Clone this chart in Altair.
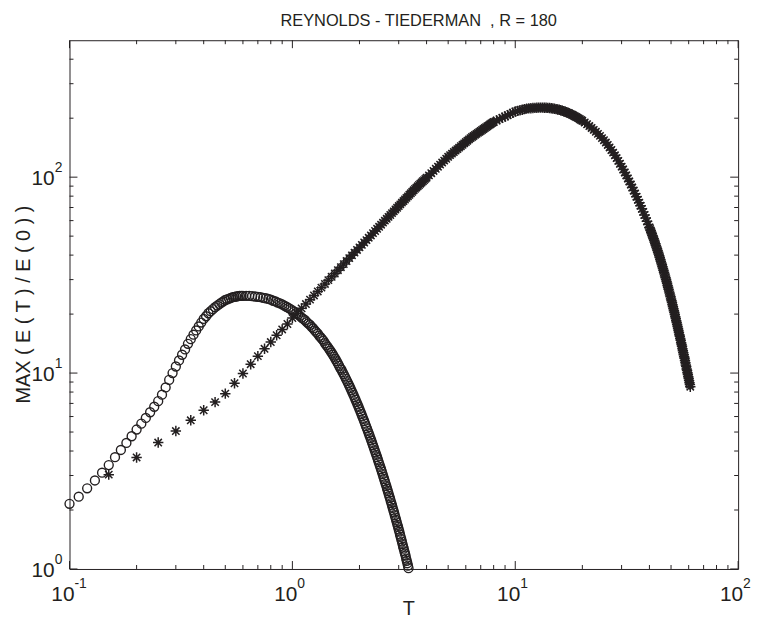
import altair as alt
import pandas as pd

# ---------------- data ----------------
circle_T = [
    0.10, 0.11, 0.12, 0.13, 0.14, 0.15, 0.16, 0.17, 0.18, 0.19,
    0.20, 0.21, 0.22, 0.23, 0.24, 0.25, 0.26, 0.27, 0.28, 0.29,
    0.30, 0.31, 0.32, 0.33, 0.34, 0.35, 0.36, 0.37, 0.38, 0.39,
    0.40, 0.41, 0.42, 0.43, 0.44, 0.45, 0.46, 0.47, 0.48, 0.49,
    0.50, 0.51, 0.52, 0.53, 0.54, 0.55, 0.56, 0.57, 0.58, 0.59,
    0.60,
    0.62, 0.64, 0.66, 0.68, 0.70, 0.72, 0.74, 0.76, 0.78, 0.80,
    0.82, 0.84, 0.86, 0.88, 0.90, 0.92, 0.94, 0.96, 0.98, 1.00,
    1.02, 1.04, 1.06, 1.08, 1.10, 1.12, 1.14, 1.16, 1.18, 1.20,
    1.22, 1.24, 1.26, 1.28, 1.30, 1.32, 1.34, 1.36, 1.38, 1.40,
    1.42, 1.44, 1.46, 1.48, 1.50, 1.52, 1.54, 1.56, 1.58, 1.60,
    1.62, 1.64, 1.66, 1.68, 1.70, 1.72, 1.74, 1.76, 1.78, 1.80,
    1.82, 1.84, 1.86, 1.88, 1.90, 1.92, 1.94, 1.96, 1.98, 2.00,
    2.02, 2.04, 2.06, 2.08, 2.10, 2.12, 2.14, 2.16, 2.18, 2.20,
    2.22, 2.24, 2.26, 2.28, 2.30, 2.32, 2.34, 2.36, 2.38, 2.40,
    2.42, 2.44, 2.46, 2.48, 2.50, 2.52, 2.54, 2.56, 2.58, 2.60,
    2.62, 2.64, 2.66, 2.68, 2.70, 2.72, 2.74, 2.76, 2.78, 2.80,
    2.82, 2.84, 2.86, 2.88, 2.90, 2.92, 2.94, 2.96, 2.98, 3.00,
    3.02, 3.04, 3.06, 3.08, 3.10, 3.12, 3.14, 3.16, 3.18, 3.20,
    3.22, 3.24, 3.26, 3.28, 3.30, 3.32,
]
circle_E = [
    2.15, 2.34, 2.58, 2.83, 3.10, 3.39, 3.72, 4.05, 4.40, 4.76,
    5.15, 5.52, 5.90, 6.31, 6.73, 7.19, 7.76, 8.45, 9.23, 10.0,
    10.8, 11.6, 12.4, 13.2, 14.1, 14.9, 15.7, 16.5, 17.3, 18.1,
    18.9, 19.5, 20.2, 20.7, 21.2, 21.7, 22.1, 22.5, 22.9, 23.2,
    23.6, 23.8, 24.0, 24.2, 24.4, 24.5, 24.6, 24.7, 24.8, 24.8,
    24.8,
    24.8, 24.8, 24.7, 24.6, 24.5, 24.4, 24.2, 24.1, 23.9, 23.7,
    23.4, 23.2, 22.9, 22.7, 22.4, 22.1, 21.8, 21.5, 21.2, 20.9,
    20.6, 20.2, 19.9, 19.6, 19.2, 18.9, 18.6, 18.2, 17.9, 17.6,
    17.2, 16.9, 16.5, 16.2, 15.9, 15.5, 15.2, 14.9, 14.6, 14.2,
    13.9, 13.6, 13.3, 13.0, 12.7, 12.4, 12.1, 11.8, 11.5, 11.2,
    10.9, 10.6, 10.4, 10.1, 9.85, 9.60, 9.34, 9.10, 8.86, 8.62,
    8.39, 8.16, 7.94, 7.73, 7.52, 7.31, 7.11, 6.92, 6.73, 6.54,
    6.36, 6.18, 6.01, 5.84, 5.68, 5.52, 5.36, 5.22, 5.07, 4.93,
    4.79, 4.66, 4.53, 4.40, 4.28, 4.16, 4.04, 3.93, 3.82, 3.72,
    3.61, 3.51, 3.41, 3.32, 3.23, 3.14, 3.05, 2.96, 2.88, 2.80,
    2.72, 2.65, 2.57, 2.50, 2.43, 2.36, 2.30, 2.23, 2.17, 2.11,
    2.05, 1.99, 1.94, 1.88, 1.83, 1.78, 1.73, 1.68, 1.64, 1.59,
    1.55, 1.50, 1.46, 1.42, 1.38, 1.34, 1.30, 1.27, 1.23, 1.20,
    1.17, 1.13, 1.10, 1.07, 1.04, 1.01,
]

star_T = [
    0.15, 0.20, 0.25, 0.30, 0.35, 0.40, 0.45, 0.50, 0.55, 0.60,
    0.65, 0.70, 0.75, 0.80, 0.85, 0.90, 0.95, 1.00,
    1.05, 1.10, 1.15, 1.20, 1.25, 1.30, 1.35, 1.40, 1.45, 1.50,
    1.55, 1.60, 1.65, 1.70, 1.75, 1.80, 1.85, 1.90, 1.95, 2.00,
    2.05, 2.10, 2.15, 2.20, 2.25, 2.30, 2.35, 2.40, 2.45, 2.50,
    2.55, 2.60, 2.65, 2.70, 2.75, 2.80, 2.85, 2.90, 2.95, 3.00,
    3.05, 3.10, 3.15, 3.20, 3.25, 3.30, 3.35, 3.40, 3.45, 3.50,
    3.55, 3.60, 3.65, 3.70, 3.75, 3.80, 3.85, 3.90, 3.95, 4.00,
    4.1, 4.2, 4.3, 4.4, 4.5, 4.6, 4.7, 4.8, 4.9, 5.0,
    5.1, 5.2, 5.3, 5.4, 5.5, 5.6, 5.7, 5.8, 5.9, 6.0,
    6.1, 6.2, 6.3, 6.4, 6.5, 6.6, 6.7, 6.8, 6.9, 7.0,
    7.1, 7.2, 7.3, 7.4, 7.5, 7.6, 7.7, 7.8, 7.9, 8.0,
    8.25, 8.5, 8.75, 9.0, 9.25, 9.5, 9.75, 10.0,
    10.25, 10.5, 10.75, 11.0, 11.25, 11.5, 11.75, 12.0,
    12.25, 12.5, 12.75, 13.0, 13.25, 13.5, 13.75, 14.0,
    14.25, 14.5, 14.75, 15.0, 15.25, 15.5, 15.75, 16.0,
    16.25, 16.5, 16.75, 17.0, 17.25, 17.5, 17.75, 18.0,
    18.25, 18.5, 18.75, 19.0, 19.25, 19.5, 19.75, 20.0,
    20.5, 21.0, 21.5, 22.0, 22.5, 23.0, 23.5, 24.0, 24.5, 25.0,
    25.5, 26.0, 26.5, 27.0, 27.5, 28.0, 28.5, 29.0, 29.5, 30.0,
    30.5, 31.0, 31.5, 32.0, 32.5, 33.0, 33.5, 34.0, 34.5, 35.0,
    35.5, 36.0, 36.5, 37.0, 37.5, 38.0, 38.5, 39.0, 39.5, 40.0,
    40.25, 40.5, 40.75, 41.0, 41.25, 41.5, 41.75, 42.0,
    42.25, 42.5, 42.75, 43.0, 43.25, 43.5, 43.75, 44.0,
    44.25, 44.5, 44.75, 45.0, 45.25, 45.5, 45.75, 46.0,
    46.25, 46.5, 46.75, 47.0, 47.25, 47.5, 47.75, 48.0,
    48.25, 48.5, 48.75, 49.0, 49.25, 49.5, 49.75, 50.0,
    50.25, 50.5, 50.75, 51.0, 51.25, 51.5, 51.75, 52.0,
    52.25, 52.5, 52.75, 53.0, 53.25, 53.5, 53.75, 54.0,
    54.25, 54.5, 54.75, 55.0, 55.25, 55.5, 55.75, 56.0,
    56.25, 56.5, 56.75, 57.0, 57.25, 57.5, 57.75, 58.0,
    58.25, 58.5, 58.75, 59.0, 59.25, 59.5, 59.75, 60.0,
    60.25, 60.5, 60.75, 61.0,
]
star_E = [
    3.03, 3.71, 4.42, 5.06, 5.74, 6.46, 7.11, 7.85, 8.87, 9.95,
    11.1, 12.2, 13.3, 14.4, 15.6, 16.7, 17.8, 19.1,
    20.2, 21.4, 22.5, 23.7, 24.9, 26.1, 27.3, 28.5, 29.8, 31.0,
    32.2, 33.5, 34.7, 36.0, 37.3, 38.6, 39.9, 41.2, 42.5, 43.8,
    45.1, 46.4, 47.7, 49.1, 50.4, 51.8, 53.1, 54.5, 55.8, 57.2,
    58.6, 60.0, 61.3, 62.7, 64.1, 65.5, 66.9, 68.4, 69.8, 71.2,
    72.6, 74.1, 75.5, 76.9, 78.4, 79.8, 81.3, 82.7, 84.2, 85.7,
    87.1, 88.4, 89.8, 91.2, 92.6, 93.9, 95.3, 96.6, 98.0, 99.4,
    102.1, 104.8, 107.6, 110.4, 113.1, 115.9, 118.7, 121.4, 124.2, 127.0,
    129.5, 131.9, 134.3, 136.7, 139.1, 141.5, 143.9, 146.3, 148.7, 151.1,
    153.5, 155.9, 158.2, 160.3, 162.3, 164.3, 166.3, 168.3, 170.2, 172.2,
    174.2, 176.1, 178.1, 180.0, 182.0, 183.9, 185.8, 187.8, 189.7, 191.3,
    194.6, 197.8, 201.0, 204.1, 207.2, 210.3, 213.3, 216.3,
    217.9, 219.5, 221.0, 222.6, 223.9, 224.5, 224.9, 225.4,
    225.8, 226.3, 226.5, 226.5, 226.4, 226.3, 226.1, 225.7,
    225.3, 224.7, 224.1, 223.4, 222.6, 221.6, 220.7, 219.6,
    218.4, 217.1, 215.8, 214.3, 212.8, 211.3, 209.7, 208.1,
    206.4, 204.7, 203.0, 201.3, 199.5, 197.6, 195.8, 193.9,
    190.1, 186.2, 182.3, 178.3, 174.4, 170.4, 166.4, 162.4, 158.3, 154.3,
    150.2, 146.0, 141.8, 137.6, 133.4, 129.3, 125.1, 121.1, 117.1, 113.2,
    109.4, 105.7, 102.1, 98.5, 95.1, 91.7, 88.5, 85.4, 82.4, 79.5,
    76.7, 74.1, 71.5, 68.9, 66.5, 64.1, 61.8, 59.6, 57.4, 55.4,
    54.4, 53.4, 52.4, 51.4, 50.4, 49.5, 48.5, 47.6,
    46.7, 45.7, 44.8, 44.0, 43.1, 42.2, 41.4, 40.5,
    39.7, 38.9, 38.0, 37.2, 36.5, 35.7, 34.9, 34.2,
    33.5, 32.7, 32.0, 31.3, 30.7, 30.0, 29.3, 28.7,
    28.0, 27.4, 26.8, 26.2, 25.6, 25.0, 24.5, 23.9,
    23.4, 22.9, 22.3, 21.8, 21.3, 20.8, 20.4, 19.9,
    19.4, 19.0, 18.5, 18.1, 17.7, 17.3, 16.9, 16.5,
    16.1, 15.7, 15.4, 15.0, 14.7, 14.3, 14.0, 13.7,
    13.3, 13.0, 12.7, 12.4, 12.1, 11.9, 11.6, 11.3,
    11.0, 10.8, 10.5, 10.3, 10.05, 9.82, 9.59, 9.37,
    9.15, 8.93, 8.73, 8.52,
]

x_major = [0.1, 1, 10, 100]
x_minor = [0.2, 0.3, 0.4, 0.5, 0.6, 0.7, 0.8, 0.9,
           2, 3, 4, 5, 6, 7, 8, 9,
           20, 30, 40, 50, 60, 70, 80, 90]
x_exp = ["-1", "0", "1", "2"]
y_major = [1, 10, 100]
y_minor = [2, 3, 4, 5, 6, 7, 8, 9,
           20, 30, 40, 50, 60, 70, 80, 90,
           200, 300, 400]
y_exp = ["0", "1", "2"]

title_text = "REYNOLDS - TIEDERMAN\u00a0\u00a0, R = 180"
x_title = "T"
y_title = "MAX\u00a0( E\u00a0( T\u00a0)\u00a0/ E\u00a0( 0\u00a0)\u00a0)"

# ---------------- styling ----------------
W, H = 674, 533
INK = "#231f20"
FONT = "Liberation Sans"
MAJ, MIN = 8, 4
TICK_FS, EXP_FS, LAB_FS = 21, 14, 20

xs = alt.Scale(type="log", domain=[0.1, 100], nice=False)
ys = alt.Scale(type="log", domain=[1, 500], nice=False)

df_c = pd.DataFrame({"T": circle_T, "E": circle_E})
df_s = pd.DataFrame({"T": star_T, "E": star_E})
df_xmaj = pd.DataFrame({"v": x_major, "base": ["10"] * 4, "exp": x_exp})
df_xmin = pd.DataFrame({"v": x_minor})
df_ymaj = pd.DataFrame({"v": y_major, "base": ["10"] * 3, "exp": y_exp})
df_ymin = pd.DataFrame({"v": y_minor})


def X(f="v:Q"):
    return alt.X(f, scale=xs, axis=None)


def Y(f="v:Q"):
    return alt.Y(f, scale=ys, axis=None)


STAR = "M-1,0L1,0M0,-1L0,1M-0.707,-0.707L0.707,0.707M-0.707,0.707L0.707,-0.707"

circles = alt.Chart(df_c).mark_point(
    shape="circle", filled=False, size=81, strokeWidth=1.4, color=INK, opacity=1
).encode(x=X("T:Q"), y=Y("E:Q"))

stars = alt.Chart(df_s).mark_point(
    shape=STAR, filled=False, size=110, strokeWidth=1.5, color=INK, opacity=1
).encode(x=X("T:Q"), y=Y("E:Q"))


def xticks(df, length):
    bot = alt.Chart(df).mark_rule(color=INK, strokeWidth=1).encode(
        x=X(), y=alt.value(H), y2=alt.value(H - length))
    top = alt.Chart(df).mark_rule(color=INK, strokeWidth=1).encode(
        x=X(), y=alt.value(0), y2=alt.value(length))
    return [bot, top]


def yticks(df, length):
    left = alt.Chart(df).mark_rule(color=INK, strokeWidth=1).encode(
        y=Y(), x=alt.value(0), x2=alt.value(length))
    right = alt.Chart(df).mark_rule(color=INK, strokeWidth=1).encode(
        y=Y(), x=alt.value(W), x2=alt.value(W - length))
    return [left, right]


xlab_base = alt.Chart(df_xmaj).mark_text(
    font=FONT, fontSize=TICK_FS, align="right", baseline="alphabetic", dx=5, color=INK
).encode(x=X(), y=alt.value(H + 32), text="base:N")
xlab_exp = alt.Chart(df_xmaj).mark_text(
    font=FONT, fontSize=EXP_FS, align="left", baseline="alphabetic", dx=5, color=INK
).encode(x=X(), y=alt.value(H + 19), text="exp:N")

ylab_base = alt.Chart(df_ymaj).mark_text(
    font=FONT, fontSize=TICK_FS, align="right", baseline="alphabetic", dy=8, color=INK
).encode(y=Y(), x=alt.value(-15), text="base:N")
ylab_exp = alt.Chart(df_ymaj).mark_text(
    font=FONT, fontSize=EXP_FS, align="left", baseline="alphabetic", dy=-5, color=INK
).encode(y=Y(), x=alt.value(-15), text="exp:N")

xtitle = alt.Chart(pd.DataFrame({"t": [x_title]})).mark_text(
    font=FONT, fontSize=LAB_FS, align="center", baseline="alphabetic", color=INK
).encode(x=alt.value(W / 2 + 5), y=alt.value(H + 46), text="t:N")

ytitle = alt.Chart(pd.DataFrame({"t": [y_title]})).mark_text(
    font=FONT, fontSize=LAB_FS, align="center", baseline="middle", angle=270, color=INK
).encode(x=alt.value(-46), y=alt.value(H / 2), text="t:N")

ttl = alt.Chart(pd.DataFrame({"t": [title_text]})).mark_text(
    font=FONT, fontSize=16.5, align="center", baseline="alphabetic", color=INK
).encode(x=alt.value(W / 2 + 15), y=alt.value(-14), text="t:N")

layers = (
    [circles, stars]
    + xticks(df_xmaj, MAJ) + xticks(df_xmin, MIN)
    + yticks(df_ymaj, MAJ) + yticks(df_ymin, MIN)
    + [xlab_base, xlab_exp, ylab_base, ylab_exp, xtitle, ytitle, ttl]
)

chart = alt.layer(*layers).properties(
    width=W,
    height=H,
    autosize=alt.AutoSizeParams(type="none"),
    padding={"left": 62, "top": 30, "right": 16, "bottom": 56},
).configure_view(stroke=INK, strokeWidth=1)

chart.save("out.html", embed_options={"renderer": "svg", "actions": False})
